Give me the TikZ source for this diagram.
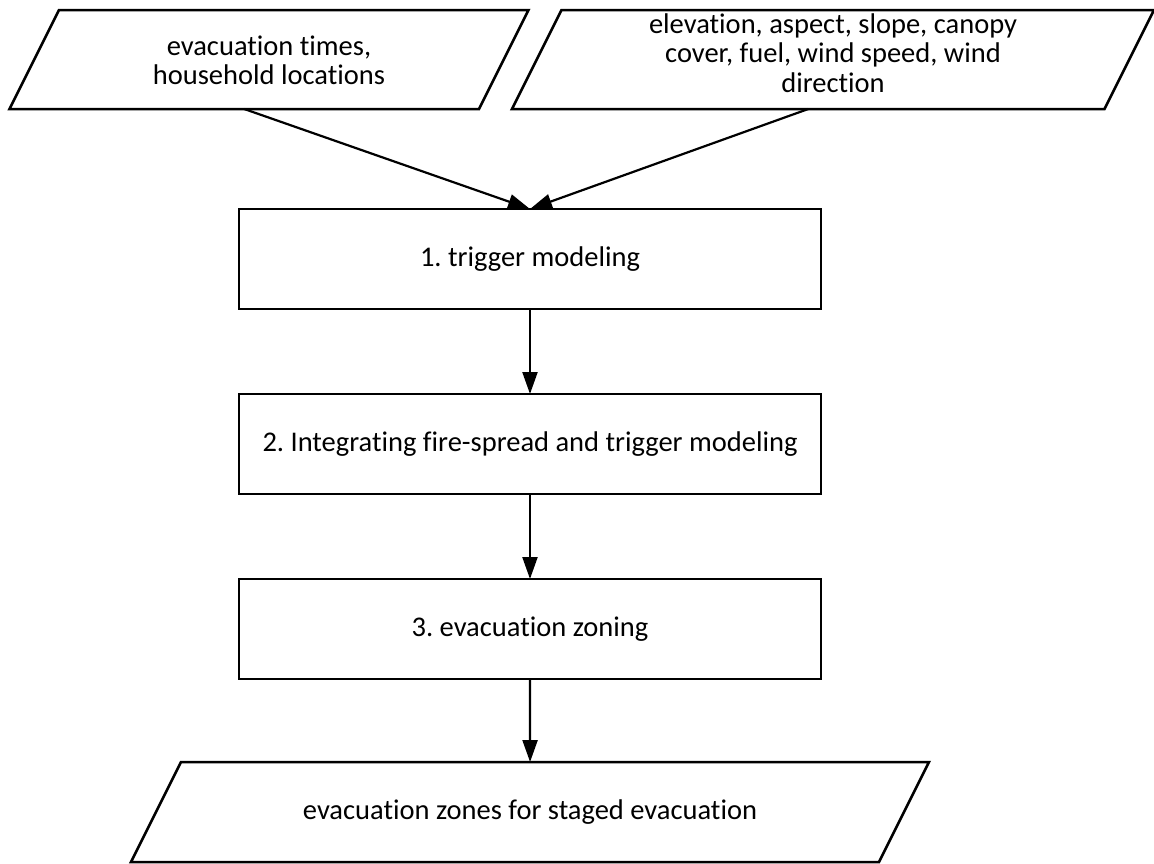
\documentclass[tikz,border=0pt]{standalone}
\usepackage{fontspec}
\setmainfont{Carlito}[Ligatures=NoCommon]
\usetikzlibrary{shapes.geometric, arrows.meta, positioning}
\tikzset{
    base/.style={align=flush center, font=\fontsize{28.5}{29.5}\selectfont, line width=2.5pt, draw=black, outer sep=0pt},
    io/.style={base, trapezium, trapezium left angle=63.435, trapezium right angle=116.565, inner sep=0pt},
    process/.style={base, rectangle, minimum width=582pt, minimum height=100pt},
    arrow/.style={line width=2.2pt, -{Triangle[length=22pt, width=15pt]}, color=black}
}
\frenchspacing

\begin{document}
\begin{tikzpicture}[x=1pt, y=1pt, node distance=85pt]
        \useasboundingbox (0,0) rectangle (1154,-863);
        \clip (0,0) rectangle (1154,-863);

        % Inputs
        \node (times) [io, text width=420pt, text height=45pt, text depth=54pt] at (269,-59.5) {evacuation times,\\household locations};
        \node (terrain) [io, text width=543pt, text height=23pt, text depth=76pt] at (833,-59.5) {elevation, aspect, slope, canopy\\cover, fuel, wind speed, wind\\direction};

        % Steps
        \node (trigger) [process] at (530,-259) {1. trigger modeling};
        \node (integrate) [process, below=of trigger] {2. Integrating fire-spread and trigger modeling};
        \node (zoning) [process, below=of integrate] {3. evacuation zoning};

        % Output
        \node (zones) [io, text width=698pt, text height=57pt, text depth=43pt, below=83pt of zoning] {evacuation zones for staged evacuation};

        \draw [arrow] (times.bottom side) -- (trigger.north);
        \draw [arrow] (terrain.bottom side) -- (trigger.north);
        \draw [arrow] (trigger) -- (integrate);
        \draw [arrow] (integrate) -- (zoning);
        \draw [arrow] (zoning) -- (zones);
\end{tikzpicture}
\end{document}
